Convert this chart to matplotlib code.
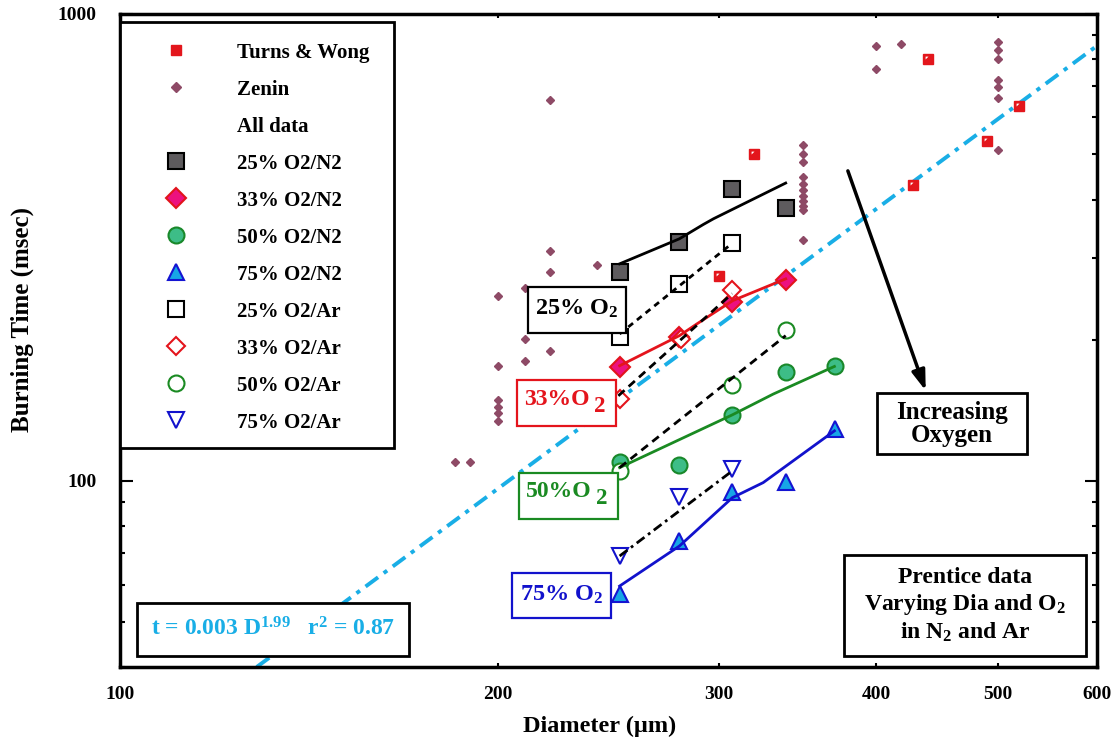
import matplotlib
matplotlib.use('Agg')
import matplotlib.pyplot as plt
from matplotlib.lines import Line2D
from matplotlib.patches import Rectangle
from matplotlib.path import Path
from matplotlib.ticker import FixedLocator, NullFormatter, NullLocator

plt.rcParams['font.family'] = ['Liberation Serif', 'DejaVu Serif']
plt.rcParams['font.weight'] = 'bold'
plt.rcParams['mathtext.fontset'] = 'custom'
plt.rcParams['mathtext.rm'] = 'Liberation Serif:bold'
plt.rcParams['mathtext.it'] = 'Liberation Serif:italic:bold'
plt.rcParams['mathtext.bf'] = 'Liberation Serif:bold'
plt.rcParams['mathtext.default'] = 'rm'

# ---------------- data ----------------
tw_d = [320, 300, 428, 440, 490, 520]
tw_t = [500, 274, 430, 798, 534, 634]

zenin_d = [185, 190,
           200, 200, 200, 200, 200, 200,
           210, 210, 210,
           220, 220, 220, 220,
           240,
           350, 350, 350, 350, 350, 350, 350, 350, 350, 350, 350,
           400, 400, 419,
           500, 500, 500, 500, 500, 500, 500]
zenin_t = [110, 110,
           249, 176, 149, 144, 140, 134.5,
           259, 201, 181,
           653, 310, 280, 190,
           290,
           523, 501, 481, 447, 432, 420, 408, 398, 388, 379, 328,
           853, 760, 860,
           870, 835, 798, 720, 697, 658, 510]

n2_d = [250, 279, 307, 339, 371]
t25_n2 = [280, 325, 422, 384]
t33_n2 = [175.5, 203.5, 241, 269]
t50_n2 = [109.8, 108.2, 138.5, 171.3, 175.8]
t75_n2 = [57.2, 74.3, 94.7, 99.5, 129.1]

d25_ar = [250, 279, 307]
t25_ar = [203.5, 264, 322.6]
d33_ar = [250, 280, 307]
t33_ar = [149.7, 201.3, 256.4]
d50_ar = [250, 307, 339]
t50_ar = [105.1, 160.6, 210.4]
d75_ar = [250, 279, 307]
t75_ar = [69.1, 92.4, 106.0]

# curve fits (as drawn)
f25n2_d = [250, 279, 291.5, 297, 339]
f25n2_t = [291.4, 329.7, 353.8, 363.9, 433.8]
f33n2_d = [250, 279, 288, 307.7, 339]
f33n2_t = [176.4, 204.6, 216.7, 243.2, 270.6]
f50n2_d = [250, 307.4, 331.3, 370.7]
f50n2_t = [106.8, 138.5, 153.4, 175.8]
f75n2_d = [250, 279, 307.4, 325.3, 370.7]
f75n2_t = [59.6, 72.6, 92.1, 99.2, 128.0]

f25ar_d = [250, 307]
f25ar_t = [206.3, 321.7]
f33ar_d = [249.4, 307.3]
f33ar_t = [152.1, 251.7]
f50ar_d = [250, 339]
f50ar_t = [106.8, 204.6]
f75ar_d = [250, 307.4]
f75ar_t = [69.1, 105.1]

fitall_d = [128.5, 600]
fitall_t = [40, 853]

xticks = [100, 200, 300, 400, 500, 600]
xtick_labels = ['100', '200', '300', '400', '500', '600']
yticks = [100, 1000]
ytick_labels = ['100', '1000']
yminor = [40, 50, 60, 70, 80, 90, 200, 300, 400, 500, 600, 700, 800, 900]

# ---------------- style ----------------
c_tw = '#e3161c'
c_zen = '#8e4a66'
c_25 = '#5e5b5e'
c_33f, c_33e = '#ec117f', '#e2141c'
c_50f, c_50e = '#3dbd87', '#19882a'
c_75f, c_75e = '#17a6e6', '#1414d2'
c_red, c_green, c_blue = '#e4141c', '#1a8a22', '#1212cc'
c_cyan = '#19aee6'

# white highlight in the upper-left corner of the Turns & Wong squares
hl_marker = Path([(0.5, 0.5), (-0.32, 0.32), (0.0, 0.32), (-0.32, 0.0), (-0.32, 0.32)],
                 [Path.MOVETO, Path.MOVETO, Path.LINETO, Path.LINETO, Path.CLOSEPOLY])

fig = plt.figure(figsize=(11.13, 7.40), dpi=100)
ax = fig.add_axes([120 / 1113, 1 - 667 / 740, 977 / 1113, 653.5 / 740])
ax.set_xscale('log')
ax.set_yscale('log')
ax.set_xlim(100, 600)
ax.set_ylim(40, 1000)

# overall fit
ax.plot(fitall_d, fitall_t, color=c_cyan, lw=2.8, ls=(0, (4, 1.8, 1.1, 1.8)), zorder=2)

# literature data
ax.plot(zenin_d, zenin_t, ls='none', marker='D', ms=4.4, mfc=c_zen, mec=c_zen, zorder=3)
ax.plot(tw_d, tw_t, ls='none', marker='s', ms=6.5, mfc=c_tw, mec=c_tw, mew=1, zorder=3)
ax.plot(tw_d, tw_t, ls='none', marker=hl_marker, ms=6.5, mfc='white', mec='none', mew=0, zorder=3.1)

# N2 data
ax.plot(n2_d[:4], t25_n2, ls='none', marker='s', ms=11.5, mfc=c_25, mec='black', mew=1.5, zorder=3)
ax.plot(n2_d[:4], t33_n2, ls='none', marker='D', ms=10, mfc=c_33f, mec=c_33e, mew=1.5, zorder=3)
ax.plot(n2_d, t50_n2, ls='none', marker='o', ms=11.5, mfc=c_50f, mec=c_50e, mew=1.5, zorder=3)
ax.plot(n2_d, t75_n2, ls='none', marker='^', ms=11.5, mfc=c_75f, mec=c_75e, mew=1.5, zorder=3)

# Ar data
ax.plot(d25_ar, t25_ar, ls='none', marker='s', ms=11, mfc='white', mec='black', mew=1.5, zorder=3)
ax.plot(d33_ar, t33_ar, ls='none', marker='D', ms=9.5, mfc='white', mec=c_red, mew=1.5, zorder=3)
ax.plot(d50_ar, t50_ar, ls='none', marker='o', ms=11.5, mfc='white', mec=c_green, mew=1.5, zorder=3)
ax.plot(d75_ar, t75_ar, ls='none', marker='v', ms=11.5, mfc='white', mec=c_blue, mew=1.5, zorder=3)

# fit curves
ax.plot(f25n2_d, f25n2_t, color='black', lw=2, zorder=4)
ax.plot(f33n2_d, f33n2_t, color=c_red, lw=2, zorder=4)
ax.plot(f50n2_d, f50n2_t, color=c_green, lw=2, zorder=4)
ax.plot(f75n2_d, f75n2_t, color=c_blue, lw=2, zorder=4)
ax.plot(f25ar_d, f25ar_t, color='black', lw=2, ls=(0, (2.2, 1.8)), zorder=4)
ax.plot(f33ar_d, f33ar_t, color='black', lw=2, ls=(0, (3, 2)), zorder=4)
ax.plot(f50ar_d, f50ar_t, color='black', lw=2, ls=(0, (3, 2)), zorder=4)
ax.plot(f75ar_d, f75ar_t, color='black', lw=2, ls=(0, (3.5, 1.6, 1, 1.6)), zorder=4)

# arrow
ax.annotate('', xy=(439, 154), xytext=(379.3, 466.6),
            arrowprops=dict(arrowstyle='-|>,head_length=1.2,head_width=0.4', color='black', lw=2.5),
            zorder=5)

# ---------------- axes styling ----------------
for s in ax.spines.values():
    s.set_linewidth(2.5)

ax.xaxis.set_major_locator(FixedLocator(xticks))
ax.set_xticklabels(xtick_labels)
ax.xaxis.set_minor_locator(NullLocator())
ax.yaxis.set_major_locator(FixedLocator(yticks))
ax.set_yticklabels(ytick_labels)
ax.yaxis.set_minor_locator(FixedLocator(yminor))
ax.yaxis.set_minor_formatter(NullFormatter())
ax.tick_params(axis='x', which='major', direction='in', length=3, width=1.5,
               top=True, bottom=True, pad=14, labelsize=14)
ax.tick_params(axis='y', which='major', direction='in', length=9, width=1.5,
               left=True, right=True, pad=17, labelsize=14)
ax.tick_params(axis='y', which='minor', direction='in', length=3.5, width=1.5,
               left=True, right=True)

ax.set_ylabel('Burning Time (msec)', fontsize=18, fontweight='bold')
ax.yaxis.set_label_coords(-0.088, 0.531)
ax.set_xlabel('Diameter (µm)', fontsize=17.5, fontweight='bold')
ax.xaxis.set_label_coords(0.491, -0.074)

# ---------------- boxes & text ----------------
def box(x0, y0, x1, y1, ec, lw=1.6):
    ax.add_patch(Rectangle((x0, y0), x1 - x0, y1 - y0, transform=ax.transAxes,
                           fc='white', ec=ec, lw=lw, zorder=6))

def label(x, y, s, color, size, ls=1.2, ha='center', va='center'):
    ax.text(x, y, s, transform=ax.transAxes, ha=ha, va=va, color=color,
            fontsize=size, fontweight='bold', zorder=7, linespacing=ls)

box(0.4173, 0.5116, 0.5179, 0.5810, 'black')
label(0.4676, 0.548, r'25% O$_2$', 'black', 17.5)

box(0.4067, 0.3692, 0.5077, 0.4392, c_red)
label(0.4135, 0.4009, '33%O', c_red, 17, ha='left', va='baseline')
label(0.4851, 0.3907, '2', c_red, 16.5, ha='left', va='baseline')

box(0.4087, 0.2265, 0.5094, 0.2973, c_green)
label(0.4156, 0.2606, '50%O', c_green, 17, ha='left', va='baseline')
label(0.4872, 0.2494, '2', c_green, 16.5, ha='left', va='baseline')

box(0.4009, 0.0745, 0.5022, 0.1443, c_blue)
label(0.4516, 0.110, r'75% O$_2$', c_blue, 17.5)

box(0.0177, 0.0173, 0.2961, 0.0975, 'black', lw=2)
label(0.157, 0.059, r't = 0.003 D$^{1.99}$   r$^{2}$ = 0.87', c_cyan, 17)

box(0.7745, 0.3255, 0.9287, 0.4188, 'black', lw=2)
label(0.8516, 0.372, 'Increasing\nOxygen', 'black', 18, ls=1.0)

box(0.7410, 0.0173, 0.9887, 0.1714, 'black', lw=2)
label(0.8648, 0.094, 'Prentice data\nVarying Dia and O$_2$\nin N$_2$ and Ar', 'black', 17, ls=1.2)

# ---------------- legend ----------------
box(0.0, 0.3351, 0.2804, 0.9870, 'black', lw=2)
handles = [
    Line2D([], [], ls='none', marker='s', ms=6.5, mfc=c_tw, mec=c_tw),
    Line2D([], [], ls='none', marker='D', ms=4.8, mfc=c_zen, mec=c_zen),
    Line2D([], [], ls='none'),
    Line2D([], [], ls='none', marker='s', ms=11.5, mfc=c_25, mec='black', mew=1.5),
    Line2D([], [], ls='none', marker='D', ms=10, mfc=c_33f, mec=c_33e, mew=1.5),
    Line2D([], [], ls='none', marker='o', ms=11.5, mfc=c_50f, mec=c_50e, mew=1.5),
    Line2D([], [], ls='none', marker='^', ms=11.5, mfc=c_75f, mec=c_75e, mew=1.5),
    Line2D([], [], ls='none', marker='s', ms=11, mfc='white', mec='black', mew=1.5),
    Line2D([], [], ls='none', marker='D', ms=9.5, mfc='white', mec=c_red, mew=1.5),
    Line2D([], [], ls='none', marker='o', ms=11.5, mfc='white', mec=c_green, mew=1.5),
    Line2D([], [], ls='none', marker='v', ms=11.5, mfc='white', mec=c_blue, mew=1.5),
]
labels = ['Turns & Wong', 'Zenin', 'All data', '25% O2/N2', '33% O2/N2', '50% O2/N2',
          '75% O2/N2', '25% O2/Ar', '33% O2/Ar', '50% O2/Ar', '75% O2/Ar']
leg = ax.legend(handles, labels, loc='upper left', bbox_to_anchor=(0.0146, 0.9556),
                frameon=False, borderpad=0, borderaxespad=0, handlelength=4,
                handletextpad=0.93, labelspacing=0.817, numpoints=1,
                prop={'family': 'Liberation Serif', 'weight': 'bold', 'size': 15})
leg.set_zorder(8)

fig.savefig('out.png', dpi=100)
